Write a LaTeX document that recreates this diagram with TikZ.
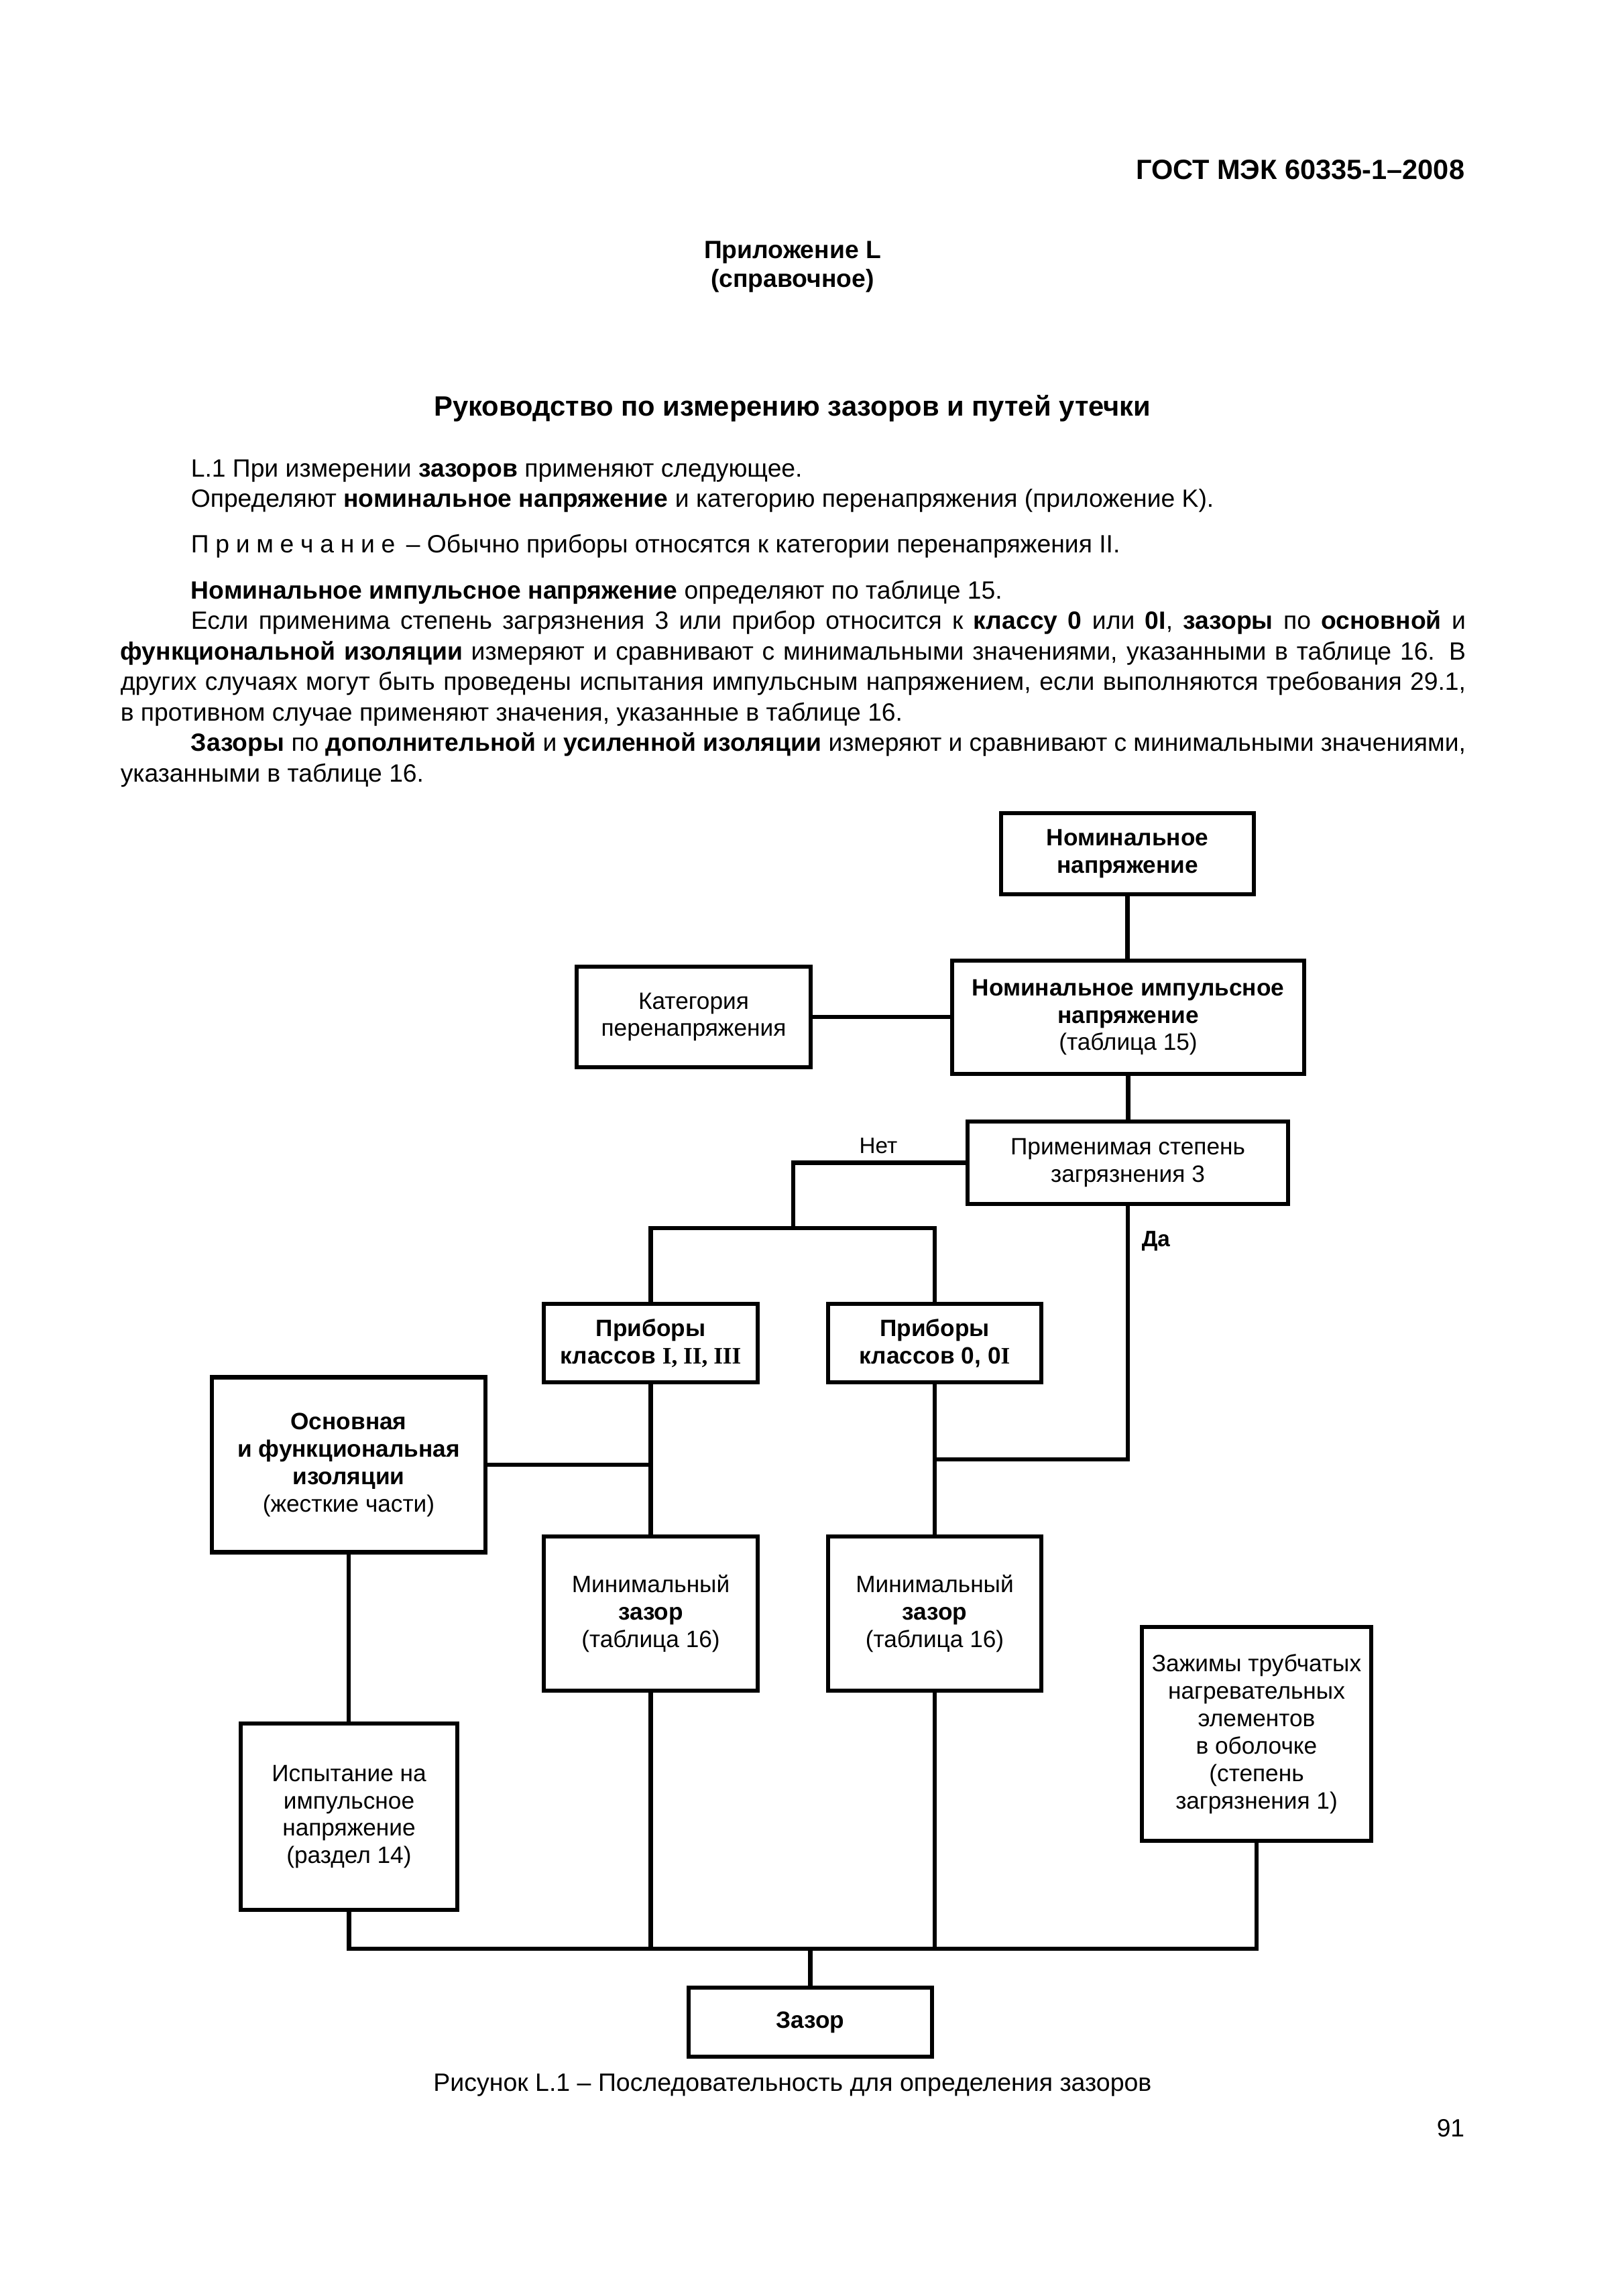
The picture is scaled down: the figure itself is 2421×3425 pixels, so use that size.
\documentclass[tikz,border=0pt]{standalone}
\usepackage{fontspec}
\setmainfont{Liberation Sans}
\newfontfamily\serifrm{Liberation Serif}
\begin{document}
\begin{tikzpicture}[x=0.08675mm, y=-0.08675mm,
  box/.style={draw, line width=1.6pt, align=center, inner sep=0pt,
    font=\fontsize{8.7}{10.1}\selectfont},
  bsz/.style 2 args={minimum width=#1*0.08675mm, minimum height=#2*0.08675mm},
  lnk/.style={line width=1.6pt},
  body/.style={inner sep=0pt, anchor=base west, font=\fontsize{9.2}{11}\selectfont},
  lbl/.style={inner sep=0pt, font=\fontsize{8.2}{10}\selectfont}]
\useasboundingbox (0,0) rectangle (2421,3425);
\fill[white] (0,0) rectangle (2421,3425);

% page texts
\node[inner sep=0pt, anchor=base east, font=\fontsize{10.25}{12}\selectfont\bfseries] (hdr) at (2185,267) {ГОСТ МЭК 60335-1–2008};
\node[inner sep=0pt, anchor=base, font=\fontsize{9.2}{11}\selectfont\bfseries] (app1) at (1182,385) {Приложение L};
\node[inner sep=0pt, anchor=base, font=\fontsize{9.2}{11}\selectfont\bfseries] (app2) at (1182,428) {(справочное)};
\node[inner sep=0pt, anchor=base, font=\fontsize{10.3}{12}\selectfont\bfseries] (title) at (1182,620) {Руководство по измерению зазоров и путей утечки};

\node[body] (t1) at (284,711) {L.1 При измерении \textbf{зазоров} применяют следующее.};
\node[body] (t2) at (284,756) {Определяют \textbf{номинальное напряжение} и категорию перенапряжения (приложение K).};
\node[body] (t3) at (284,824) {П\hspace{2.4pt}р\hspace{2.4pt}и\hspace{2.4pt}м\hspace{2.4pt}е\hspace{2.4pt}ч\hspace{2.4pt}а\hspace{2.4pt}н\hspace{2.4pt}и\hspace{2.4pt}е \,– Обычно приборы относятся к категории перенапряжения II.};
\node[body] (t4) at (284,893) {\textbf{Номинальное импульсное напряжение} определяют по таблице 15.};
\node[body] (t5) at (284,938.5) {\makebox[164.91mm][s]{Если применима степень загрязнения 3 или прибор относится к \textbf{классу 0} или \textbf{0I}, \textbf{зазоры} по \textbf{основной} и}};
\node[body] (t6) at (179,984) {\makebox[174.02mm][s]{\textbf{функциональной изоляции} измеряют и сравнивают с минимальными значениями, указанными в таблице 16. В}};
\node[body] (t7) at (179,1029.5) {\makebox[174.02mm][s]{других случаях могут быть проведены испытания импульсным напряжением, если выполняются требования 29.1,}};
\node[body] (t8) at (179,1075) {в противном случае применяют значения, указанные в таблице 16.};
\node[body] (t9) at (284,1120.5) {\makebox[164.91mm][s]{\textbf{Зазоры} по \textbf{дополнительной} и \textbf{усиленной изоляции} измеряют и сравнивают с минимальными значениями,}};
\node[body] (t10) at (179,1166) {указанными в таблице 16.};

% boxes
\node[box, bsz={377}{121}] (A) at (1681.5,1273.5) {\textbf{Номинальное}\\\textbf{напряжение}};
\node[box, bsz={525}{169}] (B) at (1682.5,1517.5) {\textbf{Номинальное импульсное}\\\textbf{напряжение}\\(таблица 15)};
\node[box, bsz={349}{150}] (C) at (1034.5,1517) {Категория\\перенапряжения};
\node[box, bsz={478}{123}] (D) at (1682,1734.5) {Применимая степень\\загрязнения 3};
\node[box, bsz={319}{117}] (E) at (970.5,2003.5) {\textbf{Приборы}\\\textbf{классов {\serifrm I, II, III}}};
\node[box, bsz={318}{117}] (F) at (1394,2003.5) {\textbf{Приборы}\\\textbf{классов 0, 0{\serifrm I}}};
\node[box, bsz={408}{261}] (G) at (520,2185) {\textbf{Основная}\\\textbf{и функциональная}\\\textbf{изоляции}\\(жесткие части)};
\node[box, bsz={319}{230}] (H) at (970.5,2407) {Минимальный\\\textbf{зазор}\\(таблица 16)};
\node[box, bsz={318}{230}] (I) at (1394,2407) {Минимальный\\\textbf{зазор}\\(таблица 16)};
\node[box, bsz={342}{319}] (J) at (1874,2586.5) {Зажимы трубчатых\\нагревательных\\элементов\\в оболочке\\(степень\\загрязнения 1)};
\node[box, bsz={323}{278}] (K) at (520.5,2710) {Испытание на\\импульсное\\напряжение\\(раздел 14)};
\node[box, bsz={363}{103}] (L) at (1208.5,3016.5) {\textbf{Зазор}};

% labels
\node[lbl, anchor=base] (nol) at (1310,1720) {Нет};
\node[lbl, anchor=base west] (yesl) at (1702,1859) {\textbf{Да}};

% connectors
\coordinate (no) at (1183,1832);
\coordinate (yes) at (1682,2177);
\coordinate (bus) at (1208.5,2907);
\draw[lnk] (A.south) -- (A.south |- B.north);
\draw[lnk] (C.east) -- (C.east -| B.west);
\draw[lnk] (B.south) -- (B.south |- D.north);
\draw[lnk] (D.west) -| (no);
\draw[lnk] (E.north) |- (no) -| (F.north);
\draw[lnk] (D.south) -- (D.south |- yes) -- (yes -| F.south);
\draw[lnk] (F.south) -- (I.north);
\draw[lnk] (E.south) -- (H.north);
\draw[lnk] (G.east) -- (G.east -| E.south);
\draw[lnk] (G.south) -- (G.south |- K.north);
\draw[lnk] (K.south) |- (bus -| J.south) -- (J.south);
\draw[lnk] (H.south) -- (H.south |- bus);
\draw[lnk] (I.south) -- (I.south |- bus);
\draw[lnk] (bus) -- (L.north);

% caption and page number
\node[inner sep=0pt, anchor=base, font=\fontsize{9.25}{11}\selectfont] (cap) at (1182,3119) {Рисунок L.1 – Последовательность для определения зазоров};
\node[inner sep=0pt, anchor=base east, font=\fontsize{9.2}{11}\selectfont] (pg) at (2185,3187) {91};
\end{tikzpicture}
\end{document}
